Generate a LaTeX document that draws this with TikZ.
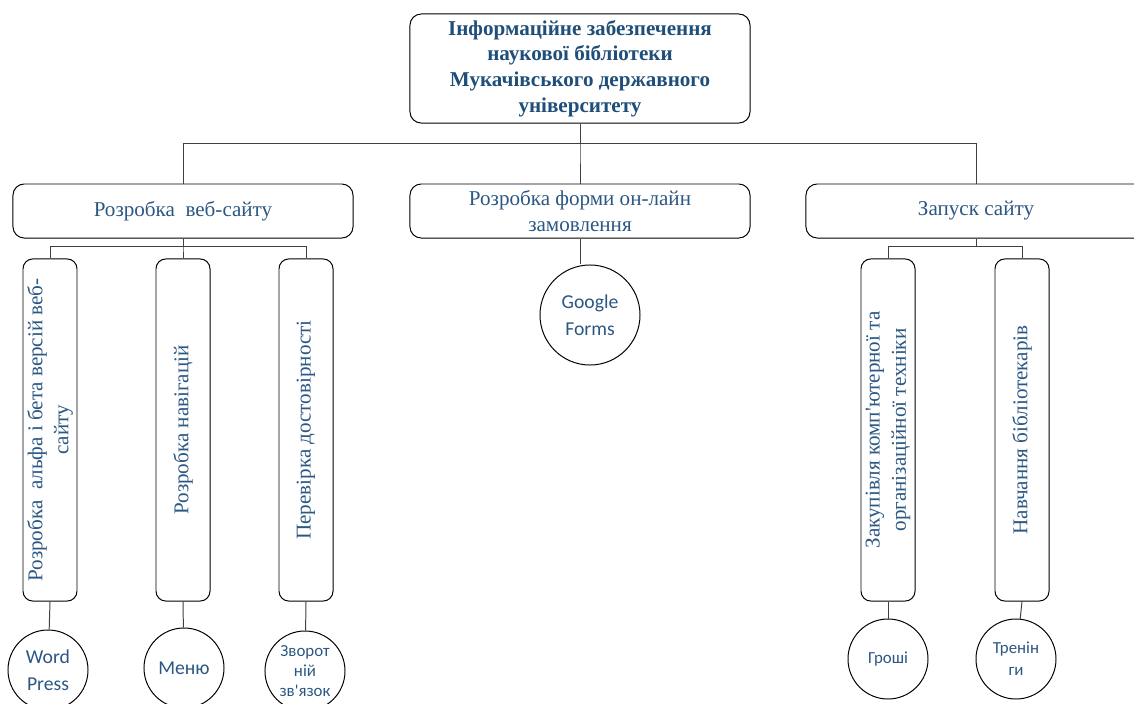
\documentclass[tikz,border=0pt]{standalone}
\usepackage{fontspec}
\setmainfont{Liberation Serif}
\newfontfamily\circfont{Carlito}
\usepackage{xcolor}
\usepackage{tikz}

\definecolor{titleblue}{HTML}{1F4E79}
\definecolor{textblue}{HTML}{2B5783}

\begin{document}
\begin{tikzpicture}[x=0.025cm,y=-0.025cm,
                title/.style={draw,rounded corners=8pt,line width=0.7pt,minimum width=8.5cm,minimum height=2.725cm,align=center,text=titleblue,font=\fontsize{15}{18.3}\selectfont\bfseries},
                group/.style={draw,rounded corners=8pt,line width=0.7pt,minimum width=8.5cm,minimum height=1.35cm,align=center,text=textblue,font=\fontsize{15}{18.5}\selectfont},
                task/.style={draw,rounded corners=7pt,line width=0.7pt,rotate=90,minimum width=8.55cm,minimum height=1.35cm,align=center,text=textblue,inner sep=1pt,font=\fontsize{15}{18.5}\selectfont},
                tool/.style={circle,draw,line width=0.7pt,minimum size=2cm,align=center,text=textblue,inner sep=0pt},
                link/.style={line width=0.7pt,draw=black!75},
            ]

            \useasboundingbox (0,0) rectangle (1134,704);

            \node[title] (info) at (580,68.5) {Інформаційне забезпечення\\наукової бібліотеки\\Мукачівського державного\\університету};

            \node[group] (dev) at (183,211) {Розробка\ \ веб-сайту};
            \node[group] (form) at (580,211) {Розробка форми он-лайн\\замовлення};
            \node[group] (launch) at (976,211) {Запуск сайту};

            \node[task] (alpha) at (50,430) {Розробка\ \ альфа і бета версій веб-\\сайту};
            \node[task] (nav) at (183,430) {Розробка навігацій};
            \node[task] (check) at (306,430) {Перевірка достовірності};
            \node[task] (buy) at (888,430) {Закупівля комп\textquotesingle ютерної та\\організаційної техніки};
            \node[task] (train) at (1022,430) {Навчання бібліотекарів};

            \node[tool,font=\circfont\fontsize{14}{19}\selectfont] (wp) at (48,670) {Word\\Press};
            \node[tool,font=\circfont\fontsize{14}{19}\selectfont] (menu) at (184,668) {Меню};
            \node[tool,font=\circfont\fontsize{12}{14.5}\selectfont] (fb) at (305,671) {Зворот\\ній\\зв\textquotesingle язок};
            \node[tool,minimum size=2.5cm,font=\circfont\fontsize{14}{19}\selectfont] (gforms) at (590,315) {Google\\Forms};
            \node[tool,font=\circfont\fontsize{12}{15}\selectfont] (money) at (888,659) {Гроші};
            \node[tool,font=\circfont\fontsize{12}{15.4}\selectfont] (trening) at (1016,659) {Тренін\\ги};

            \foreach \n in {dev,form,launch} {
                \draw[link] (info.south) -- ++(0,20) -| (\n.north);
            }
            \foreach \n in {alpha,nav,check} {
                \draw[link] (dev.south) -- ++(0,8) -| (\n.east);
            }
            \foreach \n in {buy,train} {
                \draw[link] (launch.south) -- ++(0,8) -| (\n.east);
            }
            \foreach \a/\b in {alpha/wp,nav/menu,check/fb,buy/money,train/trening} {
                \draw[link] (\a.west) -- (\b);
            }
            \draw[link] (form.south) -- (form.south |- gforms.north);
        \end{tikzpicture}
\end{document}
